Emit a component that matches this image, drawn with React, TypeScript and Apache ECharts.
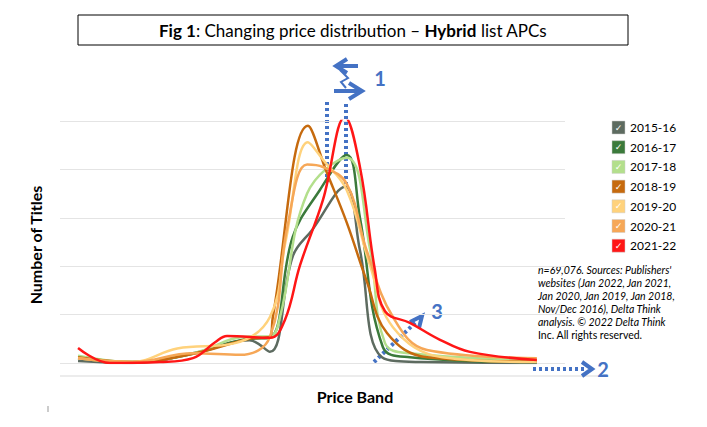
import React, { useEffect, useRef } from "react";
import * as echarts from "echarts";

const names = ["2015-16", "2016-17", "2017-18", "2018-19", "2019-20", "2020-21", "2021-22"];
const colors = ["#5d6b60", "#3b7a3b", "#b3df8c", "#c66a0e", "#ffd27c", "#f6a757", "#ff1616"];

const x1516 = [0, 3, 6.37, 9.5, 10.64, 11.9, 12.98, 14.8, 15.63, 16.85, 19, 25.44];
const y1516 = [0.04, 0, 0.2, 0.47, 0.23, 2.2, 2.75, 3.64, 2.33, 0.12, 0.02, 0];
const x1617 = [0, 3, 6.37, 9.5, 10.64, 11.9, 13.4, 14.9, 15.63, 16.9, 18.4, 25.44];
const y1617 = [0.1, 0.02, 0.19, 0.5, 0.52, 2.6, 3.57, 4.3, 3.0, 0.33, 0.12, 0.02];
const x1718 = [0, 3, 6.37, 9.5, 10.64, 11.2, 12.7, 14.9, 16.2, 17.02, 18.4, 25.44];
const y1718 = [0.15, 0.02, 0.2, 0.55, 0.55, 0.95, 3.5, 4.24, 2.33, 0.41, 0.2, 0.06];
const x1819 = [0, 3, 6.37, 9.5, 10.64, 10.8, 12.75, 13.8, 14.9, 16.0, 17.13, 19.35, 25.44];
const y1819 = [0.12, 0.02, 0.19, 0.5, 0.54, 0.95, 4.9, 3.93, 2.9, 1.7, 0.62, 0.12, 0.03];
const x1920 = [0, 3, 5.5, 8.7, 10.64, 11.5, 12.75, 13.58, 14.9, 16.2, 17.46, 20.2, 25.44];
const y1920 = [0.1, 0.02, 0.3, 0.41, 0.95, 2.5, 4.56, 4.2, 3.57, 2.0, 0.74, 0.12, 0.02];
const x2021 = [0, 3, 6.37, 9, 10.64, 11.6, 12.7, 13.58, 14.9, 16.0, 17.46, 19.35, 25.44];
const y2021 = [0.1, 0.02, 0.2, 0.17, 0.54, 2.8, 4.1, 4.05, 3.7, 2.33, 0.95, 0.27, 0.1];
const x2122 = [0, 1.77, 4.55, 6.37, 7.6, 8.26, 10.64, 11.47, 12.31, 13.58, 14.8, 15.63, 16.46, 17.02, 18.4, 20.07, 21.73, 25.44];
const y2122 = [0.31, 0, 0.02, 0.1, 0.43, 0.56, 0.52, 0.89, 2.02, 3.37, 5.08, 4.05, 1.92, 1.07, 0.83, 0.48, 0.23, 0.06];

const xs = [x1516, x1617, x1718, x1819, x1920, x2021, x2122];
const ys = [y1516, y1617, y1718, y1819, y1920, y2021, y2122];

const noteLines = [
  "n=69,076. Sources: Publishers'",
  "websites (Jan 2022, Jan 2021,",
  "Jan 2020, Jan 2019, Jan 2018,",
  "Nov/Dec 2016), Delta Think",
  "analysis. © 2022 Delta Think",
  "Inc. All rights reserved.",
];

const BLUE = "#4472c4";

export default function App() {
  const ref = useRef<HTMLDivElement>(null);
  useEffect(() => {
    const chart = echarts.init(ref.current!, null, { renderer: "svg" });
    const dot = { stroke: BLUE, lineWidth: 4, lineDash: [3, 3] };
    const head = { stroke: BLUE, lineWidth: 4, fill: "none" };
    const num = (t: string, x: number, y: number) => ({ type: "text", x, y, style: { text: t, fontSize: 20, fontWeight: "bold", fontFamily: "Lato", fill: BLUE, align: "center", verticalAlign: "middle" } });
    const graphic: any[] = [
      { type: "rect", shape: { x: 78, y: 15, width: 550, height: 30 }, style: { fill: "#fff", stroke: "#000", lineWidth: 1 } },
      {
        type: "text", x: 353, y: 30,
        style: {
          text: "{b|Fig 1}: Changing price distribution – {b|Hybrid} list APCs",
          rich: { b: { fontWeight: "bold", fontSize: 17, fontFamily: "Lato" } },
          fontSize: 17, fontFamily: "Lato", fill: "#000", align: "center", verticalAlign: "middle",
        },
      },
      { type: "line", shape: { x1: 60, y1: 376, x2: 600, y2: 376 }, style: { stroke: "#d9d9d9", lineWidth: 1 } },
      { type: "line", shape: { x1: 48, y1: 406, x2: 48, y2: 412 }, style: { stroke: "#999", lineWidth: 1 } },
      { type: "text", x: 35, y: 245, rotation: Math.PI / 2, style: { text: "Number of Titles", fontSize: 16, fontWeight: "bold", fontFamily: "Lato", fill: "#000", align: "center", verticalAlign: "middle" } },
      { type: "text", x: 355, y: 396, style: { text: "Price Band", fontSize: 16, fontWeight: "bold", fontFamily: "Lato", fill: "#000", align: "center", verticalAlign: "middle" } },
      { type: "line", shape: { x1: 327, y1: 102, x2: 327, y2: 182 }, style: dot },
      { type: "line", shape: { x1: 346, y1: 104, x2: 346, y2: 184 }, style: dot },
      { type: "line", shape: { x1: 338, y1: 66, x2: 358, y2: 66 }, style: { stroke: BLUE, lineWidth: 4 } },
      { type: "polyline", shape: { points: [[347, 59], [336, 66], [347, 73]] }, style: head },
      { type: "line", shape: { x1: 334, y1: 91, x2: 360, y2: 91 }, style: { stroke: BLUE, lineWidth: 4 } },
      { type: "polyline", shape: { points: [[349, 83], [362, 91], [349, 99]] }, style: head },
      { type: "polyline", shape: { points: [[340, 70], [348, 78], [341, 82], [346, 88]] }, style: { stroke: BLUE, lineWidth: 2, fill: "none" } },
      num("1", 380, 78),
      { type: "line", shape: { x1: 533, y1: 369, x2: 585, y2: 369 }, style: dot },
      { type: "polyline", shape: { points: [[582, 362], [592, 369], [582, 376]] }, style: head },
      num("2", 603, 369),
      { type: "line", shape: { x1: 374, y1: 362, x2: 416, y2: 322 }, style: dot },
      { type: "polyline", shape: { points: [[410, 322], [422, 316], [419, 328]] }, style: head },
      num("3", 437, 311),
    ];
    names.forEach((n, i) => {
      const y = 127 + i * 19.7;
      graphic.push({ type: "rect", shape: { x: 612, y: y - 6, width: 13, height: 13 }, style: { fill: colors[i], stroke: "#ccc", lineWidth: 0.5 } });
      graphic.push({ type: "text", x: 618.5, y: y + 0.5, style: { text: "✓", fontSize: 9, fill: "#fff", align: "center", verticalAlign: "middle", fontFamily: "DejaVu Sans" } });
      graphic.push({ type: "text", x: 630, y: y + 0.5, style: { text: n, fontSize: 12, fill: "#000", fontFamily: "Lato", verticalAlign: "middle" } });
    });
    noteLines.forEach((t, i) => {
      graphic.push({ type: "text", x: 538, y: 270 + i * 13, style: { text: t, fontSize: 10.5, fontStyle: i < 5 ? "italic" : "normal", fill: "#000", fontFamily: "Lato", verticalAlign: "middle" } });
    });

    chart.setOption({
      animation: false,
      grid: { left: 60, right: 142, top: 121, bottom: 64 },
      xAxis: { type: "value", min: -1, max: 27, show: false },
      yAxis: {
        type: "value", min: 0, max: 5, interval: 1,
        axisLabel: { show: false }, axisLine: { show: false }, axisTick: { show: false },
        splitLine: { lineStyle: { color: "#e4e4e4" } },
      },
      series: names.map((n, i) => ({
        name: n, type: "line", smooth: 0.4, showSymbol: false, z: i === 6 ? 10 : 2,
        lineStyle: { color: colors[i], width: 2.5 },
        data: xs[i].map((x, j) => [x, ys[i][j]]),
      })),
      graphic,
    });
    return () => chart.dispose();
  }, []);
  return <div ref={ref} style={{ position: "absolute", left: 0, top: 0, width: 707, height: 427 }} />;
}
